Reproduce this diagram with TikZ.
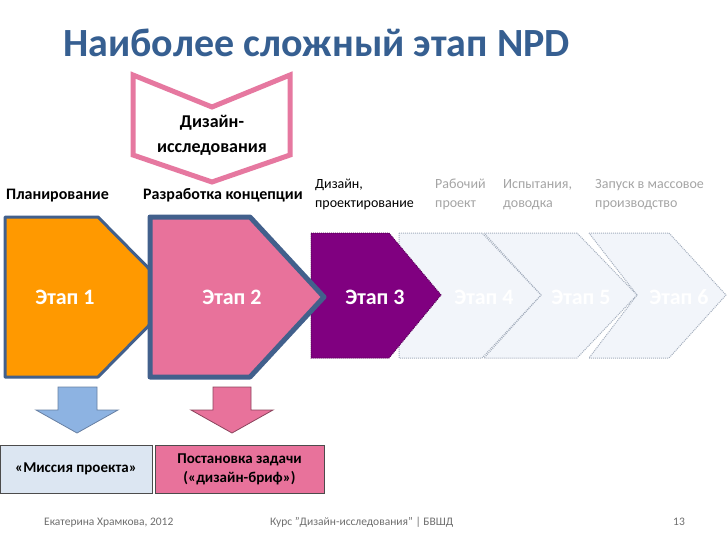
\documentclass[tikz,border=0pt]{standalone}
\usepackage{fontspec}
\setmainfont{Carlito}
\usetikzlibrary{positioning}
\definecolor{titleBlue}{RGB}{54,95,145}
\definecolor{stageOrange}{RGB}{255,153,0}
\definecolor{stagePink}{RGB}{232,114,155}
\definecolor{stagePurple}{RGB}{128,0,128}
\definecolor{stageGhost}{RGB}{242,245,250}
\definecolor{edgeNavy}{RGB}{66,96,140}
\definecolor{ghostEdge}{RGB}{165,175,190}
\definecolor{researchPink}{RGB}{230,120,160}
\definecolor{arrowBlue}{RGB}{141,179,226}
\definecolor{missionFill}{RGB}{220,230,242}
\definecolor{labelGray}{RGB}{165,165,165}
\definecolor{footGray}{RGB}{110,110,110}

\begin{document}
\begin{tikzpicture}[x=1pt, y=-1pt,
  stagetext/.style={text=white, font=\fontsize{22}{24}\selectfont\bfseries},
  phase/.style={anchor=base west, inner sep=0pt, font=\fontsize{16}{19}\selectfont\bfseries},
  phasegray/.style={anchor=base west, inner sep=0pt, align=left, text=labelGray, font=\fontsize{14}{19}\selectfont},
  ghost/.style={fill=stageGhost, draw=ghostEdge, densely dotted, line width=1pt},
  outbox/.style={draw=black!70, line width=1pt, minimum height=48pt, align=center, font=\fontsize{15}{19}\selectfont\bfseries},
  foot/.style={anchor=base west, inner sep=0pt, text=footGray, font=\fontsize{11.5}{13}\selectfont}]
  \useasboundingbox[fill=white] (0,0) rectangle (728,546);

  % title
  \node[anchor=base west, inner sep=0pt, text=titleBlue, font=\fontsize{40}{44}\selectfont\bfseries] (title) at (63,56) {Наиболее сложный этап NPD};

  % design research marker
  \draw[draw=researchPink, fill=white, line width=5pt] (133,75) -- (212,107) -- (290,75) -- (290,155) -- (212,182) -- (133,155) -- cycle;
  \node[align=center, inner sep=0pt, font=\fontsize{18}{25}\selectfont\bfseries, anchor=base] (research) at (212,152) {Дизайн-\\исследования};

  % phase captions
  \node[phase] (plan) at (6,199) {Планирование};
  \node[phase] (concept) at (143,199) {Разработка концепции};
  \node[phasegray, text=black] (design) at (315,207) {Дизайн,\\проектирование};
  \node[phasegray] (work) at (435,207) {Рабочий\\проект};
  \node[phasegray] (test) at (503,207) {Испытания,\\доводка};
  \node[phasegray] (launch) at (595,207) {Запуск в массовое\\производство};

  % stages, back to front
  \draw[ghost] (589,233) -- (669,233) -- (726,295) -- (669,358) -- (589,358) -- (637,295) -- cycle;
  \draw[ghost] (484,233) -- (577,233) -- (637,295) -- (577,358) -- (484,358) -- (541,295) -- cycle;
  \draw[ghost] (399,233) -- (482,233) -- (541,295) -- (482,358) -- (399,358) -- cycle;
  \draw[fill=stagePurple, draw=stagePurple!70!black, densely dotted, line width=1pt] (311,233) -- (389,233) -- (441,295) -- (389,358) -- (311,358) -- cycle;
  \draw[fill=stageOrange, draw=edgeNavy, line width=3pt, line join=round] (5,217) -- (98,217) -- (177,297) -- (98,377) -- (5,377) -- cycle;
  \draw[fill=stagePink, draw=edgeNavy, line width=5pt, line join=round] (150,217) -- (250,217) -- (324,297) -- (250,377) -- (150,377) -- cycle;

  \node[stagetext] (s1) at (65,297) {Этап 1};
  \node[stagetext] (s2) at (232,297) {Этап 2};
  \node[stagetext] (s3) at (375,297) {Этап 3};
  \node[stagetext] (s4) at (484,297) {Этап 4};
  \node[stagetext] (s5) at (581,297) {Этап 5};
  \node[stagetext] (s6) at (679,297) {Этап 6};

  % results
  \node[outbox, fill=missionFill, minimum width=152pt] (mission) at (76,469) {«Миссия проекта»};
  \node[outbox, fill=stagePink, minimum width=169pt] (brief) at (239.5,469) {Постановка задачи\\(«дизайн-бриф»)};

  \draw[fill=arrowBlue, draw=edgeNavy!80, line width=0.8pt] (58,387) -- (97,387) -- (97,410) -- (118,410) -- (77,433) -- (36,410) -- (58,410) -- cycle;
  \draw[fill=stagePink, draw=stagePink!60!black, line width=0.8pt] (213,387) -- (251,387) -- (251,410) -- (273,410) -- (232,433) -- (191,410) -- (213,410) -- cycle;

  % footer
  \node[foot] (author) at (44,525) {Екатерина Храмкова, 2012};
  \node[foot] (course) at (270,525) {Курс "Дизайн-исследования" | БВШД};
  \node[foot] (page) at (673,525) {13};
\end{tikzpicture}
\end{document}
